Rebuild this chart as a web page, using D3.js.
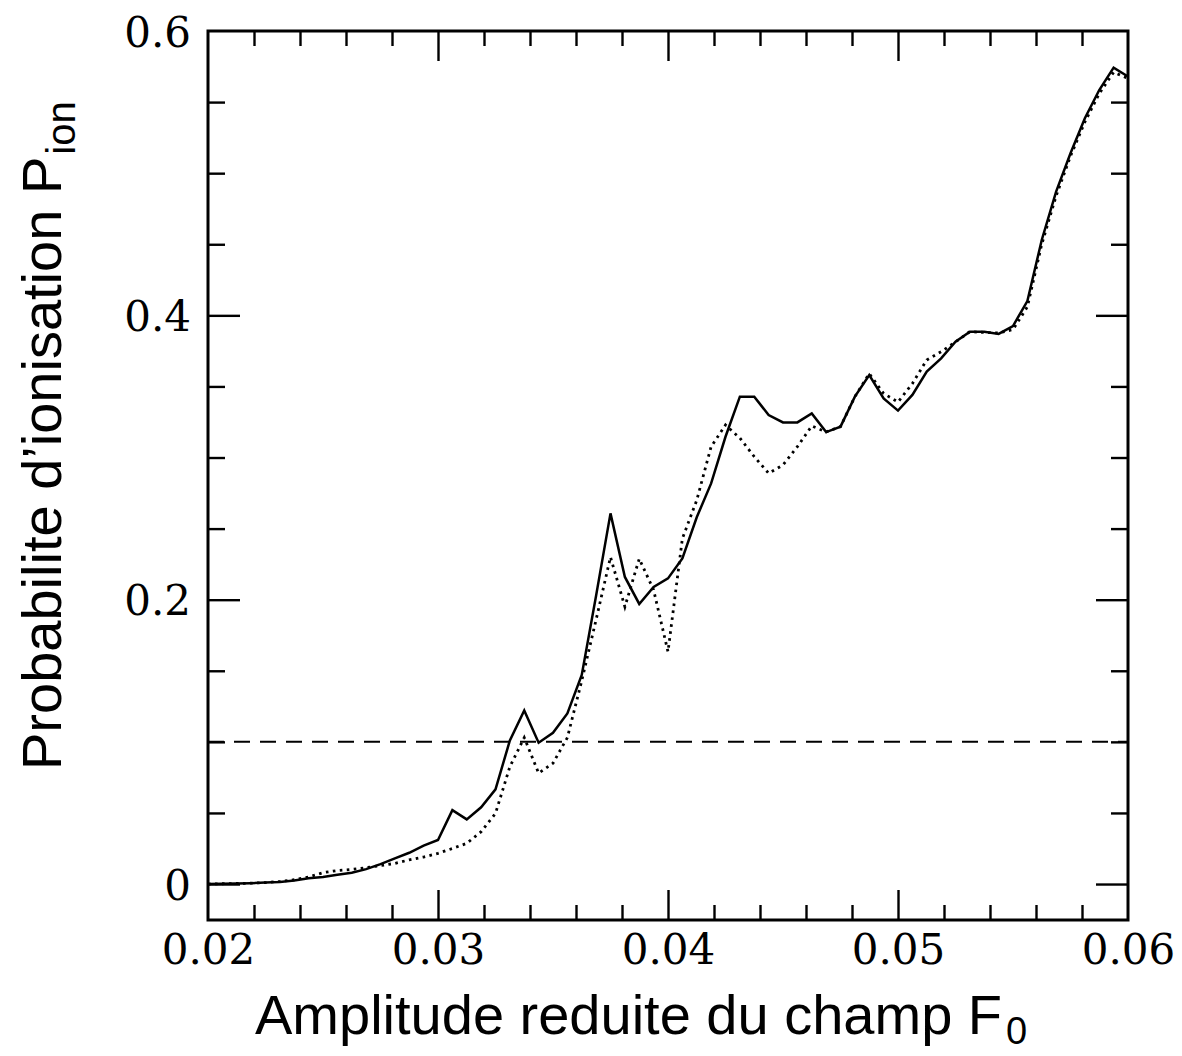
<!DOCTYPE html>
<html>
<head>
<meta charset="utf-8">
<script src="https://cdn.jsdelivr.net/npm/d3@7"></script>
<style>
  html, body { margin: 0; padding: 0; background: #fff; }
  svg { display: block; }
</style>
</head>
<body>
<svg id="chart" width="1182" height="1056"></svg>
<script>
// ---- data ----
const fieldGrid = d3.range(65).map(i => +(0.02 + i * 0.000625).toFixed(6));

const solidValues = [
  0, 0.0002, 0.0004, 0.0006, 0.001, 0.0015, 0.0025, 0.004, 0.005, 0.0065,
  0.008, 0.0105, 0.014, 0.018, 0.022, 0.027, 0.031, 0.052, 0.0455, 0.054,
  0.0666, 0.101, 0.122, 0.0994, 0.1064, 0.12, 0.147, 0.203, 0.2607, 0.216,
  0.197, 0.209, 0.215, 0.229, 0.258, 0.2818, 0.3146, 0.3428, 0.3428, 0.3299,
  0.3247, 0.3247, 0.331, 0.3179, 0.3217, 0.3428, 0.358, 0.3416, 0.333, 0.344,
  0.3604, 0.3697, 0.3814, 0.3885, 0.3885, 0.3869, 0.3925, 0.41, 0.453, 0.487,
  0.514, 0.5386, 0.5585, 0.5742, 0.568
];

const dottedValues = [
  0, 0.0002, 0.0004, 0.0006, 0.001, 0.0018, 0.003, 0.005, 0.008, 0.0095,
  0.0103, 0.0115, 0.013, 0.0145, 0.017, 0.019, 0.0216, 0.025, 0.0286, 0.0368,
  0.0497, 0.0825, 0.103, 0.078, 0.085, 0.103, 0.143, 0.186, 0.23, 0.195,
  0.2288, 0.2068, 0.1634, 0.243, 0.27, 0.3076, 0.3229, 0.3137, 0.3006, 0.2889,
  0.2947, 0.3076, 0.3222, 0.318, 0.3217, 0.3428, 0.359, 0.345, 0.339, 0.352,
  0.3686, 0.3744, 0.3814, 0.3885, 0.388, 0.3876, 0.39, 0.406, 0.45, 0.484,
  0.512, 0.536, 0.556, 0.571, 0.5667
];

const thresholdValue = 0.1;

const xDomain = [0.02, 0.06];
const yDomain = [-0.0253, 0.6];
const xLabelTicks = [0.02, 0.03, 0.04, 0.05, 0.06];
const xMajorTicks = [0.03, 0.04, 0.05];
const xMinorTicks = d3.range(1, 20).map(i => +(0.02 + i * 0.002).toFixed(4)).filter(v => !xMajorTicks.some(m => Math.abs(m - v) < 1e-9));
const yLabelTicks = [0, 0.2, 0.4, 0.6];
const yMajorTicks = [0, 0.2, 0.4];
const yMinorTicks = [0.05, 0.1, 0.15, 0.25, 0.3, 0.35, 0.45, 0.5, 0.55];

const xTitle = "Amplitude reduite du champ F";
const xTitleSub = "0";
const yTitle = "Probabilite d\u2019ionisation P";
const yTitleSub = "ion";

// ---- layout ----
const L = 208, R = 1128, T = 31, B = 920;
const svg = d3.select("#chart");
const x = d3.scaleLinear().domain(xDomain).range([L, R]);
const y = d3.scaleLinear().domain(yDomain).range([B, T]);

const tickFont = "'DejaVu Serif', serif";
const titleFont = "'Liberation Sans', Arial, Helvetica, sans-serif";

function styleTicks(g, w) {
  g.select(".domain").remove();
  g.selectAll(".tick line").attr("stroke", "#000").attr("stroke-width", w);
}

// bottom
svg.append("g").attr("transform", `translate(0,${B})`)
  .call(d3.axisBottom(x).tickValues(xMinorTicks).tickSize(-15).tickFormat(""))
  .call(g => styleTicks(g, 2.4));
svg.append("g").attr("transform", `translate(0,${B})`)
  .call(d3.axisBottom(x).tickValues(xMajorTicks).tickSize(-30).tickFormat(""))
  .call(g => styleTicks(g, 2.4));
// top
svg.append("g").attr("transform", `translate(0,${T})`)
  .call(d3.axisTop(x).tickValues(xMinorTicks).tickSize(-15).tickFormat(""))
  .call(g => styleTicks(g, 2.4));
svg.append("g").attr("transform", `translate(0,${T})`)
  .call(d3.axisTop(x).tickValues(xMajorTicks).tickSize(-30).tickFormat(""))
  .call(g => styleTicks(g, 2.4));
// left
svg.append("g").attr("transform", `translate(${L},0)`)
  .call(d3.axisLeft(y).tickValues(yMinorTicks).tickSize(-17).tickFormat(""))
  .call(g => styleTicks(g, 2.4));
svg.append("g").attr("transform", `translate(${L},0)`)
  .call(d3.axisLeft(y).tickValues(yMajorTicks).tickSize(-32).tickFormat(""))
  .call(g => styleTicks(g, 2.4));
// right
svg.append("g").attr("transform", `translate(${R},0)`)
  .call(d3.axisRight(y).tickValues(yMinorTicks).tickSize(-17).tickFormat(""))
  .call(g => styleTicks(g, 2.4));
svg.append("g").attr("transform", `translate(${R},0)`)
  .call(d3.axisRight(y).tickValues(yMajorTicks).tickSize(-32).tickFormat(""))
  .call(g => styleTicks(g, 2.4));

// tick labels
const xl = svg.append("g").attr("transform", `translate(0,${B})`)
  .call(d3.axisBottom(x).tickValues(xLabelTicks).tickSize(0).tickPadding(0).tickFormat(d3.format(".2f")));
xl.select(".domain").remove();
xl.selectAll("text").attr("y", 44).attr("dy", null)
  .attr("font-family", tickFont).attr("font-size", 42).attr("fill", "#000");

const yl = svg.append("g").attr("transform", `translate(${L},0)`)
  .call(d3.axisLeft(y).tickValues(yLabelTicks).tickSize(0).tickPadding(0)
    .tickFormat(d => d === 0 ? "0" : d.toFixed(1)));
yl.select(".domain").remove();
yl.selectAll("text").attr("x", -17).attr("dy", "0.36em")
  .attr("font-family", tickFont).attr("font-size", 42).attr("fill", "#000");

// data lines
const pts = vals => vals.map((v, i) => [fieldGrid[i], v]);
const line = d3.line().x(d => x(d[0])).y(d => y(d[1]));

svg.append("path").datum(pts(dottedValues))
  .attr("d", line).attr("fill", "none").attr("stroke", "#000")
  .attr("stroke-width", 2.8).attr("stroke-dasharray", "2.6,4.4");

svg.append("path").datum(pts(solidValues))
  .attr("d", line).attr("fill", "none").attr("stroke", "#000")
  .attr("stroke-width", 2.5).attr("stroke-linejoin", "miter");

svg.append("line")
  .attr("x1", x(xDomain[0])).attr("x2", x(xDomain[1]))
  .attr("y1", y(thresholdValue)).attr("y2", y(thresholdValue))
  .attr("stroke", "#000").attr("stroke-width", 2).attr("stroke-dasharray", "16,10");

// frame
svg.append("rect").attr("x", L).attr("y", T).attr("width", R - L).attr("height", B - T)
  .attr("fill", "none").attr("stroke", "#000").attr("stroke-width", 3);

// titles
const xt = svg.append("text")
  .attr("x", 255).attr("y", 1034)
  .attr("font-family", titleFont).attr("font-size", 56).attr("fill", "#000");
xt.append("tspan").text(xTitle);
xt.append("tspan").attr("font-size", 38).attr("dx", 4).attr("dy", 10).text(xTitleSub);

const yt = svg.append("text")
  .attr("transform", "translate(61,770) rotate(-90)")
  .attr("font-family", titleFont).attr("font-size", 56).attr("fill", "#000");
yt.append("tspan").text(yTitle);
yt.append("tspan").attr("font-size", 40).attr("dx", 2).attr("dy", 14).text(yTitleSub);
</script>
</body>
</html>
